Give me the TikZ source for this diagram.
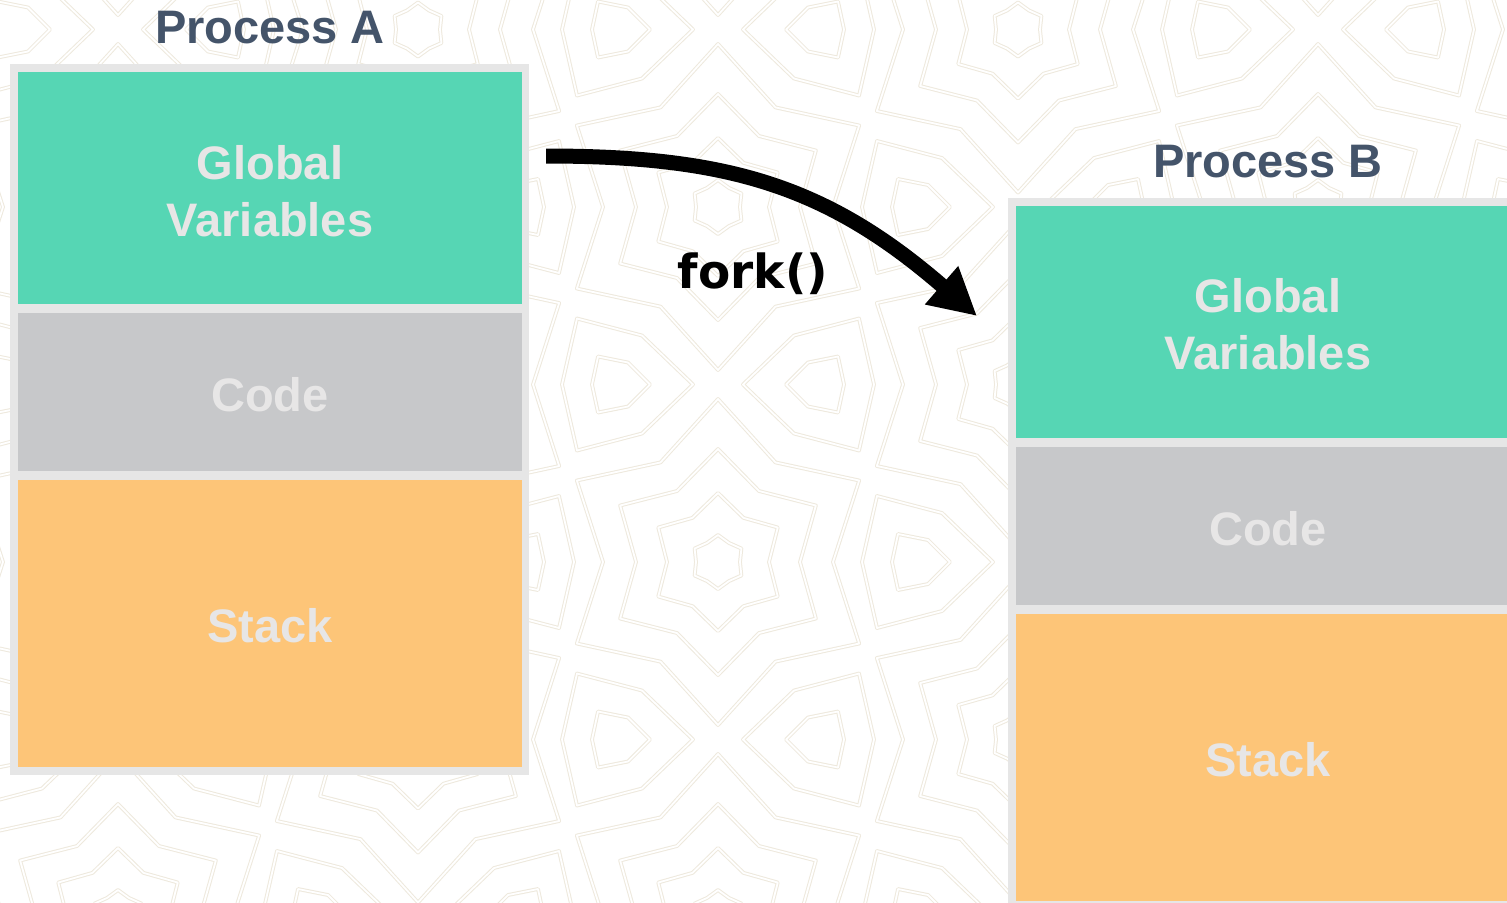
\documentclass[tikz,border=0pt]{standalone}
\usepackage{fontspec}
\setmainfont{Liberation Sans}
\newfontfamily\forkfont{DejaVu Sans}
\usetikzlibrary{arrows.meta}

\definecolor{framegray}{RGB}{230,230,230}
\definecolor{globalgreen}{RGB}{86,214,180}
\definecolor{codegray}{RGB}{199,200,202}
\definecolor{stackorange}{RGB}{253,197,120}
\definecolor{segtext}{RGB}{231,230,230}
\definecolor{titleslate}{RGB}{68,84,106}
\definecolor{patline}{RGB}{238,233,221}

\begin{document}
\begin{tikzpicture}[x=0.5pt, y=-0.5pt,
  patstroke/.style={draw=patline, line width=0.5pt, double=white, double distance=0.9pt, line join=round},
  frame/.style={fill=framegray, draw=none, inner sep=0pt, outer sep=0pt,
    minimum width=259.5pt, minimum height=355.5pt},
  seg/.style={draw=none, inner sep=0pt, outer sep=0pt, minimum width=252pt},
  globalseg/.style={seg, fill=globalgreen, minimum height=116pt},
  codeseg/.style={seg, fill=codegray, minimum height=79pt},
  stackseg/.style={seg, fill=stackorange, minimum height=143.5pt},
  segtextstyle/.style={text=segtext, align=center, inner sep=0pt,
    font=\bfseries\fontsize{23.5}{28.5}\selectfont},
  title/.style={text=titleslate, anchor=base, inner sep=0pt,
    font=\bfseries\fontsize{23.5}{28}\selectfont},
  forklabel/.style={text=black, anchor=base, inner sep=0pt,
    font=\forkfont\bfseries\fontsize{23.5}{28}\selectfont},
  forkarrow/.style={line width=7.5pt, black,
    -{Triangle[length=23.5pt, width=23.7pt]}}
]
\useasboundingbox (0,0) rectangle (1507,902);
\begin{scope}
  \clip (0,0) rectangle (1507,902);
  \fill[white] (0,0) rectangle (1507,902);

  % star-and-shield lattice in the background
  \foreach \i in {-3,...,3} {
    \foreach \j in {-2,...,6} {
      \pgfmathtruncatemacro\parity{mod(\i+\j+100,2)}
      \ifnum\parity=0
        \pgfmathsetmacro\cx{718+300*\i}
        \pgfmathsetmacro\cy{207+177.5*\j}
        \begin{scope}[shift={(\cx,\cy)}]
          \foreach \R/\r in {27/22,69/51,113/82,163/115} {
            \draw[patstroke] (90:\R) -- (60:\r) -- (30:\R) -- (0:\r) -- (-30:\R)
              -- (-60:\r) -- (-90:\R) -- (-120:\r) -- (-150:\R) -- (180:\r)
              -- (150:\R) -- (120:\r) -- cycle;
          }
          \foreach \s in {1,-1} {
            \begin{scope}[xscale=\s, shift={(200,0)}]
              \draw[patstroke] (-56,0) -- (-41,-66) -- (24,-49) -- (75,0)
                -- (24,49) -- (-41,66) -- cycle;
              \draw[patstroke] (-26,0) -- (-20,-28) -- (10,-22) -- (32,0)
                -- (10,22) -- (-20,28) -- cycle;
            \end{scope}
          }
        \end{scope}
      \fi
    }
  }

  % Process A
  \node[frame] (frameA) at (269.5,419.5) {};
  \node[globalseg] (globalA) at (270,188) {};
  \node[codeseg] (codeA) at (270,392) {};
  \node[stackseg] (stackA) at (270,623.5) {};
  \node[segtextstyle] (globalAtext) at (270,191.4) {Global\\Variables};
  \node[segtextstyle] (codeAtext) at (270,395) {Code};
  \node[segtextstyle] (stackAtext) at (270,626) {Stack};
  \node[title] (titleA) at (270,43.3) {Process A};

  % Process B
  \node[frame] (frameB) at (1267.5,553.5) {};
  \node[globalseg] (globalB) at (1268,322) {};
  \node[codeseg] (codeB) at (1268,526) {};
  \node[stackseg] (stackB) at (1268,757.5) {};
  \node[segtextstyle] (globalBtext) at (1268,324.5) {Global\\Variables};
  \node[segtextstyle] (codeBtext) at (1268,529) {Code};
  \node[segtextstyle] (stackBtext) at (1268,760) {Stack};
  \node[title] (titleB) at (1268,177) {Process B};

  % fork arrow
  \coordinate (forkstart) at (546,156);
  \coordinate (forkend) at (977,316);
  \draw[forkarrow] (forkstart) .. controls (726,156) and (826,185) .. (forkend);
  \node[forklabel] (forktext) at (753,288) {fork()};
\end{scope}
\end{tikzpicture}
\end{document}
